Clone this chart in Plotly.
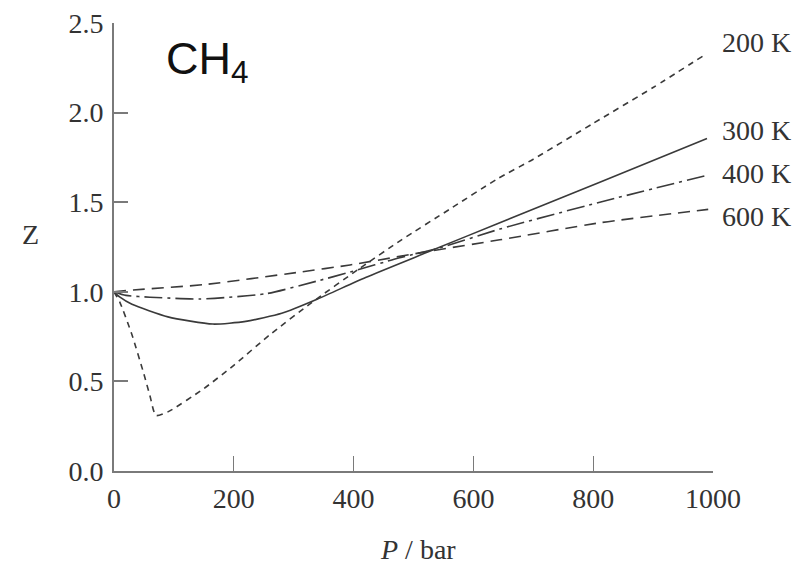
import plotly.graph_objects as go

# Data (compressibility factor of CH4)
p_200 = [0, 10, 30, 50, 60, 70, 90, 150, 200, 260, 330, 410, 480, 560, 640, 700, 800, 900, 990]
z_200 = [1.0, 0.94, 0.76, 0.54, 0.42, 0.31, 0.33, 0.46, 0.59, 0.76, 0.94, 1.13, 1.29, 1.46, 1.63, 1.74, 1.94, 2.14, 2.33]

p_300 = [0, 10, 30, 90, 165, 220, 280, 340, 420, 530, 640, 810, 990]
z_300 = [1.0, 0.97, 0.93, 0.86, 0.82, 0.835, 0.88, 0.96, 1.08, 1.23, 1.38, 1.61, 1.855]

p_400 = [0, 20, 60, 144, 255, 339, 394, 477, 544, 644, 811, 990]
z_400 = [1.0, 0.98, 0.97, 0.96, 0.99, 1.06, 1.11, 1.19, 1.245, 1.35, 1.50, 1.65]

p_600 = [0, 32, 150, 310, 394, 533, 644, 811, 992]
z_600 = [1.0, 1.01, 1.04, 1.11, 1.15, 1.23, 1.29, 1.385, 1.46]

series_labels = ["200 K", "300 K", "400 K", "600 K"]
label_z = [2.39, 1.90, 1.66, 1.42]

x_ticks = [0, 200, 400, 600, 800, 1000]
y_ticks = [0.0, 0.5, 1.0, 1.5, 2.0, 2.5]
y_tick_text = ["0.0", "0.5", "1.0", "1.5", "2.0", "2.5"]

LINE = "#3a3a3a"
AXIS = "#7a7a7a"
TEXT = "#333333"
SERIF = "Liberation Serif"

fig = go.Figure()
series = [
    (p_200, z_200, "6px,5px"),
    (p_300, z_300, "solid"),
    (p_400, z_400, "18px,5px,3px,5px"),
    (p_600, z_600, "12px,7px"),
]
for (px, pz, dash), name in zip(series, series_labels):
    fig.add_trace(go.Scatter(
        x=px, y=pz, mode="lines", name=name,
        line=dict(color=LINE, width=1.6, dash=dash, shape="spline", smoothing=0.6),
        showlegend=False,
    ))

for name, zl in zip(series_labels, label_z):
    fig.add_annotation(x=1.0117, y=zl, xref="paper", yref="y", text=name, showarrow=False,
                       xanchor="left", yanchor="middle",
                       font=dict(family=SERIF, size=28, color=TEXT))

fig.add_annotation(x=83, y=2.285, xref="x", yref="y", text="CH<sub>4</sub>", showarrow=False,
                   xanchor="left", yanchor="middle",
                   font=dict(family="Liberation Sans", size=45, color="#111111"))

fig.add_annotation(x=-0.139, y=1.32, xref="paper", yref="y", text="Z", showarrow=False,
                   xanchor="center", yanchor="middle",
                   font=dict(family=SERIF, size=28, color=TEXT))

fig.add_annotation(x=0.5075, y=-0.175, xref="paper", yref="paper", text="<i>P</i> / bar",
                   showarrow=False, xanchor="center", yanchor="middle",
                   font=dict(family=SERIF, size=28, color=TEXT))

# The page body adds an 8 px offset, so the figure is 8 px smaller and shifted margins compensate.
fig.update_layout(
    width=792, height=562,
    margin=dict(l=106, r=87, t=15, b=99),
    paper_bgcolor="white", plot_bgcolor="white",
    xaxis=dict(
        range=[0, 1000], tickvals=x_ticks, ticks="inside", ticklen=15, tickcolor=AXIS, tickwidth=1,
        showline=True, linecolor=AXIS, linewidth=2, showgrid=False, zeroline=False,
        automargin=False, ticklabelstandoff=1, ticklabeloverflow="allow",
        tickfont=dict(family=SERIF, size=28, color=TEXT),
    ),
    yaxis=dict(
        range=[0, 2.5], tickvals=y_ticks, ticktext=y_tick_text, ticks="inside", ticklen=14,
        tickcolor=AXIS, tickwidth=1.5,
        showline=True, linecolor=AXIS, linewidth=2, showgrid=False, zeroline=False,
        automargin=False, ticklabelstandoff=3, ticklabeloverflow="allow",
        tickfont=dict(family=SERIF, size=28, color=TEXT),
    ),
)

fig.write_html("out.html")
